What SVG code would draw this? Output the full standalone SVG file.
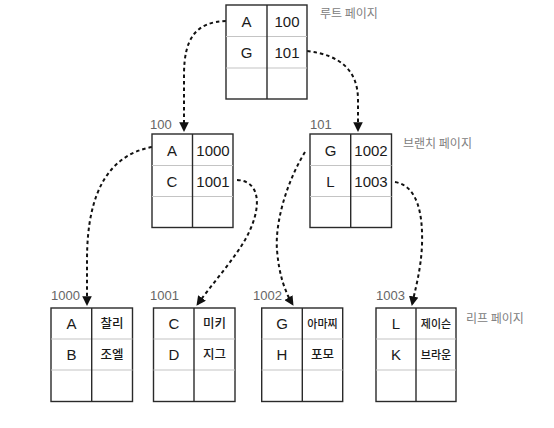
<svg xmlns="http://www.w3.org/2000/svg" width="554" height="428" viewBox="0 0 554 428">
<style>
.box{fill:#fff;stroke:#2a2a2a;stroke-width:1.4}
.div{stroke:#2a2a2a;stroke-width:1.4}
.row{stroke:#c4c4c4;stroke-width:1.2}
.t{font-family:"Liberation Sans","Noto Sans CJK KR",sans-serif;font-size:15px;fill:#1a1a1a;text-anchor:middle}
.k{font-family:"Noto Sans CJK KR","Liberation Sans",sans-serif;font-size:12.5px;font-weight:500;fill:#1a1a1a;text-anchor:middle}
.ks{font-size:11px}
.g{font-family:"Noto Sans CJK KR","Liberation Sans",sans-serif;font-size:12px;fill:#808080}
.n{font-family:"Liberation Sans",sans-serif;font-size:13px;fill:#666}
.c{fill:none;stroke:#111;stroke-width:2;stroke-dasharray:3.5 3}
</style>
<defs>
<marker id="ah" viewBox="0 0 10 10" refX="9" refY="5" markerWidth="4.8" markerHeight="4.8" orient="auto" markerUnits="strokeWidth">
<path d="M0,0 L10,5 L0,10 z" fill="#111"/>
</marker>
</defs>
<rect width="554" height="428" fill="#fff"/>

<g id="connectors">
<path class="c" marker-end="url(#ah)" d="M226,21 C196,22 184,38 184,75 L184,131"/>
<path class="c" marker-end="url(#ah)" d="M307,51 C340,55 358,70 358,100 L358,131"/>
<path class="c" marker-end="url(#ah)" d="M152,147 C110,155 87,190 87,260 L87,305"/>
<path class="c" marker-end="url(#ah)" d="M237,180 C262,181 262,210 245,240 C232,262 212,284 197,305"/>
<path class="c" marker-end="url(#ah)" d="M305,152 C285,185 275,225 277,250 C279,275 285,292 293,305"/>
<path class="c" marker-end="url(#ah)" d="M395,182 C418,186 423,215 422,245 C421,270 415,290 412,305"/>
</g>

<g id="root">
<rect class="box" x="226" y="5" width="81" height="94"/>
<line class="row" x1="226" y1="36.5" x2="307" y2="36.5"/>
<line class="row" x1="226" y1="68" x2="307" y2="68"/>
<line class="div" x1="267" y1="5" x2="267" y2="99"/>
<text class="t" x="246.5" y="27">A</text>
<text class="t" x="287" y="27">100</text>
<text class="t" x="246.5" y="58">G</text>
<text class="t" x="287" y="58">101</text>
<text class="g" x="320" y="18">루트 페이지</text>
</g>

<g id="branch100">
<rect class="box" x="152" y="134" width="81" height="93.5"/>
<line class="row" x1="152" y1="165.5" x2="233" y2="165.5"/>
<line class="row" x1="152" y1="196.5" x2="233" y2="196.5"/>
<line class="div" x1="192.5" y1="134" x2="192.5" y2="227.5"/>
<text class="t" x="172" y="155.5">A</text>
<text class="t" x="213" y="155.5">1000</text>
<text class="t" x="172" y="186.5">C</text>
<text class="t" x="213" y="186.5">1001</text>
<text class="n" x="150" y="129">100</text>
</g>

<g id="branch101">
<rect class="box" x="310" y="134" width="81.5" height="93.5"/>
<line class="row" x1="310" y1="165.5" x2="391.5" y2="165.5"/>
<line class="row" x1="310" y1="196.5" x2="391.5" y2="196.5"/>
<line class="div" x1="350.7" y1="134" x2="350.7" y2="227.5"/>
<text class="t" x="330.5" y="155.5">G</text>
<text class="t" x="371" y="155.5">1002</text>
<text class="t" x="330.5" y="186.5">L</text>
<text class="t" x="371" y="186.5">1003</text>
<text class="n" x="310" y="129">101</text>
<text class="g" x="403" y="147.5">브랜치 페이지</text>
</g>

<g id="leaf1000">
<rect class="box" x="51" y="308" width="81.5" height="93.5"/>
<line class="row" x1="51" y1="339" x2="132.5" y2="339"/>
<line class="row" x1="51" y1="370" x2="132.5" y2="370"/>
<line class="div" x1="91.7" y1="308" x2="91.7" y2="401.5"/>
<text class="t" x="71.5" y="328.5">A</text>
<text class="k" x="112" y="328">찰리</text>
<text class="t" x="71.5" y="359.5">B</text>
<text class="k" x="112" y="359">조엘</text>
<text class="n" x="51" y="300">1000</text>
</g>

<g id="leaf1001">
<rect class="box" x="153.5" y="308" width="81.5" height="93.5"/>
<line class="row" x1="153.5" y1="339" x2="235" y2="339"/>
<line class="row" x1="153.5" y1="370" x2="235" y2="370"/>
<line class="div" x1="194" y1="308" x2="194" y2="401.5"/>
<text class="t" x="174" y="328.5">C</text>
<text class="k" x="214.5" y="328">미키</text>
<text class="t" x="174" y="359.5">D</text>
<text class="k" x="214.5" y="359">지그</text>
<text class="n" x="150" y="300">1001</text>
</g>

<g id="leaf1002">
<rect class="box" x="261.7" y="308" width="81" height="93.5"/>
<line class="row" x1="261.7" y1="339" x2="342.7" y2="339"/>
<line class="row" x1="261.7" y1="370" x2="342.7" y2="370"/>
<line class="div" x1="302.3" y1="308" x2="302.3" y2="401.5"/>
<text class="t" x="282" y="328.5">G</text>
<text class="k ks" x="322.5" y="327.5">아마찌</text>
<text class="t" x="282" y="359.5">H</text>
<text class="k" x="322.5" y="359">포모</text>
<text class="n" x="253" y="300">1002</text>
</g>

<g id="leaf1003">
<rect class="box" x="376" y="308" width="80" height="93.5"/>
<line class="row" x1="376" y1="339" x2="456" y2="339"/>
<line class="row" x1="376" y1="370" x2="456" y2="370"/>
<line class="div" x1="416" y1="308" x2="416" y2="401.5"/>
<text class="t" x="396" y="328.5">L</text>
<text class="k ks" x="436" y="327.5">제이슨</text>
<text class="t" x="396" y="359.5">K</text>
<text class="k ks" x="436" y="359">브라운</text>
<text class="n" x="376" y="300">1003</text>
<text class="g" x="466" y="322.5">리프 페이지</text>
</g>
</svg>
